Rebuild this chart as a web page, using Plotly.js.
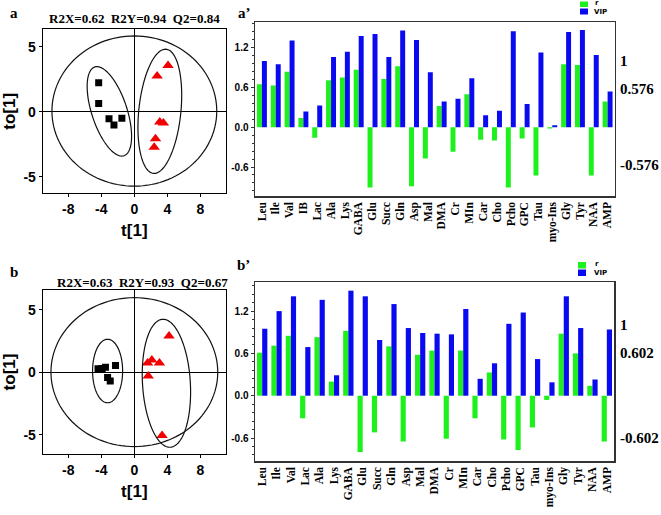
<!DOCTYPE html>
<html><head><meta charset="utf-8">
<script src="https://cdn.plot.ly/plotly-3.0.1.min.js"></script>
<style>html,body{margin:0;padding:0;background:#fff}#chart{width:661px;height:515px}</style>
</head><body><div id="chart"></div>
<script>
// ---- Data: bar panels ----
const categoriesA = ['Leu','Ile','Val','IB','Lac','Ala','Lys','GABA','Glu','Succ','Gln','Asp','Mal','DMA','Cr','MIn','Car','Cho','Pcho','GPC','Tau','myo-Ins','Gly','Tyr','NAA','AMP'];
const rA   = [0.65,0.63,0.84,0.14,-0.16,0.71,0.75,0.87,-0.91,0.73,0.92,-0.89,-0.47,0.32,-0.37,0.50,-0.19,-0.20,-0.91,-0.17,-0.73,-0.02,0.95,0.94,-0.73,0.39];
const vipA = [1.00,0.95,1.31,0.24,0.33,1.06,1.14,1.38,1.41,1.06,1.46,1.32,0.83,0.39,0.43,0.74,0.18,0.25,1.45,0.35,1.13,0.03,1.44,1.47,1.09,0.54];
const categoriesB = ['Leu','Ile','Val','Lac','Ala','Lys','GABA','Glu','Succ','Gln','Asp','Mal','DMA','Cr','MIn','Car','Cho','Pcho','GPC','Tau','myo-Ins','Gly','Tyr','NAA','AMP'];
const rB   = [0.61,0.71,0.85,-0.32,0.83,0.20,0.92,-0.80,-0.52,0.70,-0.65,0.58,0.64,-0.61,0.64,-0.32,0.33,-0.62,-0.77,-0.45,-0.06,0.88,0.60,0.14,-0.65];
const vipB = [0.95,1.20,1.41,0.69,1.36,0.29,1.49,1.41,0.79,1.30,0.96,0.89,0.88,0.87,1.23,0.24,0.46,1.02,1.18,0.52,0.19,1.41,0.96,0.23,0.94];
const critA = [1, 0.576, -0.576];
const critB = [1, 0.602, -0.602];
const barTicks = [-0.6, 0, 0.6, 1.2];
const barTickText = ['-0.6','0.0','0.6','1.2'];

// ---- Data: score plots ----
const aSqX  = [-4.32,-4.32,-3.07,-2.47,-1.51];
const aSqY  = [2.23,0.62,-0.54,-1.02,-0.51];
const aTriX = [4.08,2.76,3.08,3.52,2.56,2.40];
const aTriY = [3.54,2.75,-0.79,-0.87,-2.07,-2.74];
const bSqX  = [-4.40,-3.90,-3.50,-3.24,-2.92,-2.28];
const bSqY  = [0.28,0.30,0.40,-0.43,-0.70,0.53];
const bTriX = [4.20,1.60,2.12,3.04,1.68,3.36];
const bTriY = [2.90,0.74,0.98,0.74,-0.30,-5.07];
const pcaTicksX = [-8,-4,0,4,8];
const pcaTicksY = [-5,0,5];
// ellipses: [cx, cy, semi-diameter vector (ax, ay), horizontal conjugate half-width bx]
const ellipsesA = [[0,0.05,0,5.77,9.98],[-3.025,0.025,-1.505,3.435,2.23],[3.085,0.03,0.685,4.77,2.56]];
const ellipsesB = [[0,0.01,0,5.96,10.1],[-3.24,0.10,0,2.54,1.82],[3.885,-0.88,-0.405,5.12,2.9]];
const titleA = 'R2X=0.62\u00a0\u00a0R2Y=0.94\u00a0\u00a0Q2=0.84';
const titleB = 'R2X=0.63\u00a0\u00a0R2Y=0.93\u00a0\u00a0Q2=0.67';

// ---- helpers ----
const W = 661, H = 515;
const px = x => x / W, py = y => 1 - y / H;
const SERIF = 'Liberation Serif', SANS = 'Liberation Sans';
const font = (fam, s, c) => ({family: fam, size: s, color: c || '#000', weight: 'bold'});
const GREEN = '#1ef01e', BLUE = '#0a0af0';

function ellipsePath(e, n) {
  const [cx, cy, ax, ay, bx] = e;
  let d = '';
  for (let i = 0; i <= n; i++) {
    const t = 2 * Math.PI * i / n;
    const x = cx + Math.cos(t) * ax + Math.sin(t) * bx;
    const y = cy + Math.cos(t) * ay;
    d += (i === 0 ? 'M' : 'L') + x.toFixed(4) + ',' + y.toFixed(4);
  }
  return d + 'Z';
}

const traces = [
  {type:'scatter', mode:'markers', x:aSqX, y:aSqY, xaxis:'x', yaxis:'y', marker:{symbol:'square', size:7, color:'#000'}, showlegend:false},
  {type:'scatter', mode:'markers', x:aTriX, y:aTriY, xaxis:'x', yaxis:'y', marker:{symbol:'triangle-up', size:10, color:'#f00000'}, showlegend:false},
  {type:'scatter', mode:'markers', x:bSqX, y:bSqY, xaxis:'x3', yaxis:'y3', marker:{symbol:'square', size:7, color:'#000'}, showlegend:false},
  {type:'scatter', mode:'markers', x:bTriX, y:bTriY, xaxis:'x3', yaxis:'y3', marker:{symbol:'triangle-up', size:10, color:'#f00000'}, showlegend:false},
  {type:'bar', name:'r', x:categoriesA, y:rA, xaxis:'x2', yaxis:'y2', marker:{color:GREEN}, showlegend:false},
  {type:'bar', name:'VIP', x:categoriesA, y:vipA, xaxis:'x2', yaxis:'y2', marker:{color:BLUE}, showlegend:false},
  {type:'bar', name:'r', x:categoriesB, y:rB, xaxis:'x4', yaxis:'y4', marker:{color:GREEN}, showlegend:false},
  {type:'bar', name:'VIP', x:categoriesB, y:vipB, xaxis:'x4', yaxis:'y4', marker:{color:BLUE}, showlegend:false}
];

const pcaX = (anchor, dom) => ({
  domain: dom, anchor: anchor, range: [-11.1, 11.1], tickvals: pcaTicksX, ticktext: pcaTicksX.map(String),
  ticks: 'outside', ticklen: 3, tickcolor:'#000', showline: true, mirror: true, linecolor: '#000', linewidth: 1,
  showgrid: false, zeroline: true, zerolinecolor: '#000', zerolinewidth: 1, fixedrange: true,
  tickfont: font(SANS, 14), title: {text: 't[1]', font: font(SANS, 17), standoff: 8}
});
const pcaY = (anchor, dom, rng) => ({
  domain: dom, anchor: anchor, range: rng, tickvals: pcaTicksY, ticktext: pcaTicksY.map(String),
  ticks: 'outside', ticklen: 3, tickcolor:'#000', showline: true, mirror: true, linecolor: '#000', linewidth: 1,
  showgrid: false, zeroline: true, zerolinecolor: '#000', zerolinewidth: 1, fixedrange: true,
  tickfont: font(SANS, 14), title: {text: 'to[1]', font: font(SANS, 17), standoff: 8}
});
const barX = (anchor, dom, cats) => ({
  domain: dom, anchor: anchor, type: 'category', tickangle: -90, ticks: '',
  tickmode: 'array', tickvals: cats, ticktext: cats,
  tickfont: font(SERIF, 11.5), showline: true, mirror: true, linecolor: '#333', linewidth: 1.5,
  showgrid: false, zeroline: false, fixedrange: true
});
const barY = (anchor, dom, rng) => ({
  domain: dom, anchor: anchor, range: rng, tickvals: barTicks, ticktext: barTickText,
  ticks: 'outside', ticklen: 3, tickcolor: '#333', tickfont: font(SANS, 10),
  minor: {tick0: 0, dtick: 0.12, ticks: 'outside', ticklen: 2, tickcolor: '#333', showgrid: false},
  showline: true, mirror: true, linecolor: '#333', linewidth: 1.5, showgrid: false, zeroline: false, fixedrange: true
});
const critY = (over, anchor, rng, vals) => ({
  overlaying: over, anchor: anchor, side: 'right', range: rng,
  tickvals: [vals[0], vals[1], 0, vals[2]], showticklabels: false,
  ticks: '', showgrid: true, gridcolor: '#a9a9a9', gridwidth: 1,
  showline: false, zeroline: false, fixedrange: true
});

const rngA = [-1.038, 1.59], rngB = [-0.926, 1.613];

const shapes = [];
ellipsesA.forEach(e => shapes.push({type:'path', xref:'x', yref:'y', path: ellipsePath(e, 120), line:{color:'#111', width:1.2}, layer:'above'}));
ellipsesB.forEach(e => shapes.push({type:'path', xref:'x3', yref:'y3', path: ellipsePath(e, 120), line:{color:'#111', width:1.2}, layer:'above'}));
// custom legends
[[580, 1.5, 7, 8.5, 14.5], [578, 262, 268.5, 269.5, 276]].forEach(([x0, g0, g1, b0, b1]) => {
  shapes.push({type:'rect', xref:'paper', yref:'paper', x0:px(x0), x1:px(x0+8), y0:py(g1), y1:py(g0), fillcolor:GREEN, line:{width:0}});
  shapes.push({type:'rect', xref:'paper', yref:'paper', x0:px(x0), x1:px(x0+8), y0:py(b1), y1:py(b0), fillcolor:BLUE, line:{width:0}});
});

const ann = (x, y, text, f, xanchor) => ({xref:'paper', yref:'paper', x:px(x), y:py(y), text, font:f, showarrow:false, xanchor: xanchor || 'center', yanchor:'middle'});
const annotations = [
  ann(14, 13, 'a', font(SERIF, 15)),
  ann(14, 272, 'b', font(SERIF, 15)),
  ann(244, 13, 'a\u2019', font(SERIF, 15)),
  ann(243, 265, 'b\u2019', font(SERIF, 15)),
  ann(134, 18, titleA, font(SERIF, 13)),
  ann(142, 282, titleB, font(SERIF, 13)),
  ann(593, 3.5, 'r', font('DejaVu Sans', 7), 'left'),
  ann(592, 12.5, 'VIP', font('DejaVu Sans', 7), 'left'),
  ann(593, 263.5, 'r', font('DejaVu Sans', 7), 'left'),
  ann(592, 272.5, 'VIP', font('DejaVu Sans', 7), 'left')
];
// critical-value labels on the right of the bar panels
critA.forEach(v => annotations.push({xref:'paper', yref:'y2', x:px(618), y:v, text:String(v), font:font(SERIF, 15), showarrow:false, xanchor:'left', yanchor:'middle'}));
critB.forEach(v => annotations.push({xref:'paper', yref:'y4', x:px(618), y:v, text:String(v), font:font(SERIF, 15), showarrow:false, xanchor:'left', yanchor:'middle'}));

const layout = {
  width: W, height: H, margin: {l:0, r:0, t:0, b:0}, paper_bgcolor:'#fff', plot_bgcolor:'#fff',
  showlegend: false, barmode: 'group', bargap: 0.28, bargroupgap: 0,
  font: {family: SANS, color: '#000'},
  xaxis: pcaX('y', [px(42.7), px(226)]),
  yaxis: pcaY('x', [py(193.3), py(29.3)], [-6.27, 6.33]),
  xaxis3: pcaX('y3', [px(42.7), px(226)]),
  yaxis3: pcaY('x3', [py(454), py(290)], [-6.54, 6.58]),
  xaxis2: barX('y2', [px(255), px(614.5)], categoriesA),
  yaxis2: barY('x2', [py(196), py(22)], rngA),
  xaxis4: barX('y4', [px(255), px(614)], categoriesB),
  yaxis4: barY('x4', [py(461), py(282)], rngB),
  yaxis5: critY('y2', 'x2', rngA, critA),
  yaxis6: critY('y4', 'x4', rngB, critB),
  shapes, annotations
};

Plotly.newPlot('chart', traces, layout, {staticPlot: true, displayModeBar: false});
</script></body></html>
